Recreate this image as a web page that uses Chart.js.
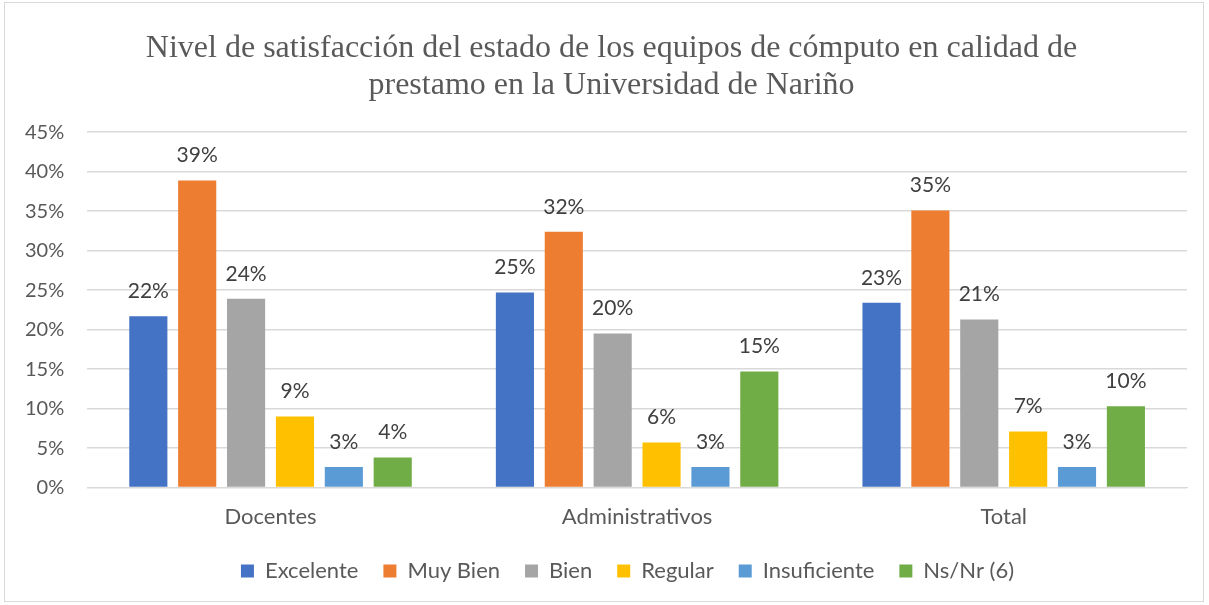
<!DOCTYPE html>
<html>
<head>
<meta charset="utf-8">
<script src="https://cdn.jsdelivr.net/npm/chart.js@4"></script>
<style>
  html, body { margin: 0; padding: 0; background: #fff; }
  #frame { position: absolute; left: 4px; top: 2px; width: 1200px; height: 600px; border: 1px solid #d9d9d9; box-sizing: border-box; }
  #wrap { position: absolute; left: 0; top: 0; width: 1209px; height: 605px; }
</style>
</head>
<body>
<div id="frame"></div>
<div id="wrap"><canvas id="chart" width="1209" height="605"></canvas></div>
<script>
const grupos = ["Docentes", "Administrativos", "Total"];
const niveles = ["Excelente", "Muy Bien", "Bien", "Regular", "Insuficiente", "Ns/Nr (6)"];
const colores = ["#4472c4", "#ed7d31", "#a5a5a5", "#ffc000", "#5b9bd5", "#70ad47"];
const excelente = [21.7, 24.7, 23.4];
const muyBien = [38.9, 32.4, 35.1];
const bien = [23.9, 19.5, 21.3];
const regular = [9.0, 5.7, 7.1];
const insuficiente = [2.6, 2.6, 2.6];
const nsnr = [3.8, 14.7, 10.3];
const series = [excelente, muyBien, bien, regular, insuficiente, nsnr];

const fuente = "Lato, 'Open Sans', sans-serif";

// etiquetas de valor encima de cada barra
const etiquetas = {
  id: "etiquetas",
  afterDatasetsDraw(chart) {
    const ctx = chart.ctx;
    ctx.save();
    ctx.font = "21px " + fuente;
    ctx.fillStyle = "#404040";
    ctx.textAlign = "center";
    ctx.textBaseline = "middle";
    chart.data.datasets.forEach((ds, i) => {
      chart.getDatasetMeta(i).data.forEach((bar, j) => {
        ctx.fillText(Math.round(ds.data[j]) + "%", bar.x, bar.y - 25);
      });
    });
    ctx.restore();
  }
};

// corre un poco el titulo y la leyenda como en el original
const desplazar = {
  id: "desplazar",
  afterLayout(chart) {
    const t = chart.titleBlock, l = chart.legend;
    t.left += 17; t.right += 17;
    l.left += 33; l.right += 33;
    l.top -= 3; l.bottom -= 3;
  }
};

new Chart(document.getElementById("chart"), {
  type: "bar",
  data: {
    labels: grupos,
    datasets: niveles.map((n, i) => ({
      label: n,
      data: series[i],
      backgroundColor: colores[i],
      categoryPercentage: 0.8,
      barPercentage: 0.78
    }))
  },
  options: {
    responsive: false,
    animation: false,
    layout: { padding: { left: 2, right: 22, top: 12, bottom: 10 } },
    plugins: {
      title: {
        display: true,
        text: ["Nivel de satisfacción del estado de los equipos de cómputo en calidad de", "prestamo en la Universidad de Nariño"],
        font: { family: "'Liberation Serif', 'Times New Roman', serif", size: 32, weight: "normal", lineHeight: 1.16 },
        color: "#595959",
        padding: { top: 18, bottom: 28 }
      },
      legend: {
        position: "bottom",
        labels: {
          boxWidth: 13, boxHeight: 13,
          font: { family: fuente, size: 22 },
          color: "#595959",
          padding: 25
        }
      },
      tooltip: { enabled: false }
    },
    scales: {
      x: {
        grid: { display: false },
        border: { color: "#d9d9d9" },
        ticks: { font: { family: fuente, size: 22 }, color: "#595959", padding: 8 }
      },
      y: {
        min: 0, max: 45,
        ticks: { stepSize: 5, callback: v => v + "%", font: { family: fuente, size: 20 }, color: "#595959", padding: 23 },
        grid: { color: "#d9d9d9", lineWidth: 1.5, drawTicks: false },
        border: { display: false }
      }
    }
  },
  plugins: [etiquetas, desplazar]
});
</script>
</body>
</html>
